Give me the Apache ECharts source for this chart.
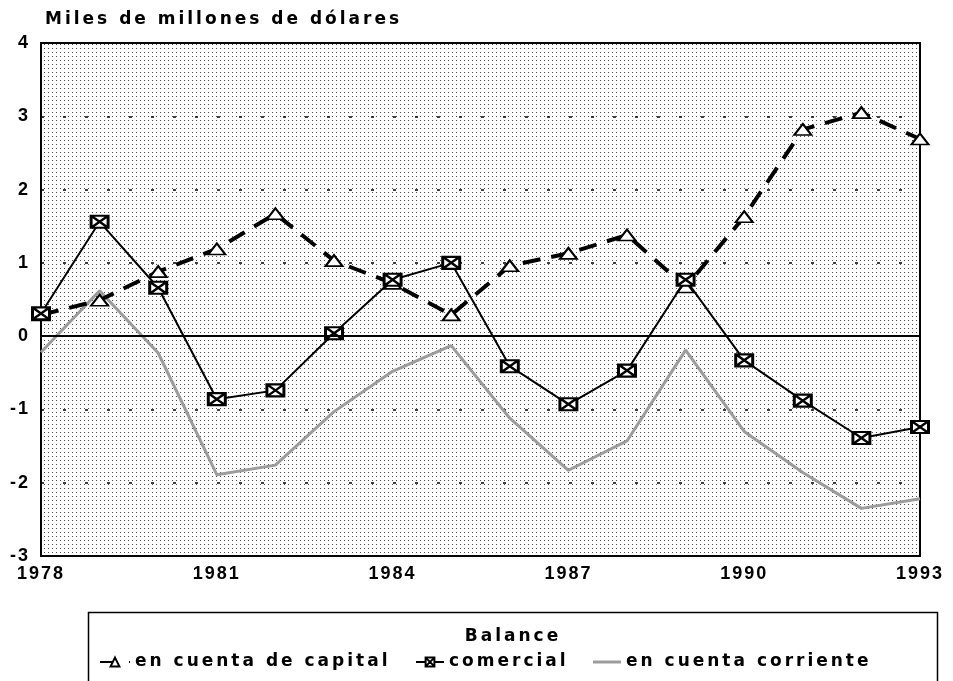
<!DOCTYPE html>
<html>
<head>
<meta charset="utf-8">
<script src="https://cdn.jsdelivr.net/npm/echarts@6/dist/echarts.min.js"></script>
<style>
  html, body { margin: 0; padding: 0; background: #fff; }
  #chart { width: 953px; height: 681px; }
</style>
</head>
<body>
<div id="chart"></div>
<script>
// ---- wide letter spacing for the extended typeface look ----
(function () {
  var P = CanvasRenderingContext2D.prototype;
  function ls(ctx) {
    var f = ctx.font || '';
    try { ctx.letterSpacing = /DejaVu/.test(f) ? '3px' : '2px'; } catch (e) {}
  }
  var ft = P.fillText;
  P.fillText = function () { ls(this); return ft.apply(this, arguments); };
  var mt = P.measureText;
  P.measureText = function () { ls(this); return mt.apply(this, arguments); };
})();

// ---- data ----
var years = ['1978','1979','1980','1981','1982','1983','1984','1985','1986','1987','1988','1989','1990','1991','1992','1993'];
var capital   = [0.29, 0.49, 0.88, 1.19, 1.67, 1.03, 0.72, 0.29, 0.96, 1.13, 1.38, 0.67, 1.63, 2.82, 3.05, 2.69];
var comercial = [0.31, 1.56, 0.66, -0.86, -0.74, 0.04, 0.77, 1.00, -0.41, -0.93, -0.47, 0.77, -0.33, -0.88, -1.39, -1.24];
var corriente = [-0.22, 0.62, -0.23, -1.89, -1.76, -1.03, -0.48, -0.13, -1.12, -1.83, -1.43, -0.19, -1.30, -1.86, -2.35, -2.22];
var seriesNames = ['en cuenta de capital', 'comercial', 'en cuenta corriente'];
var yTicks = { min: -3, max: 4, interval: 1 };

// dotted background pattern
var pc = document.createElement('canvas');
pc.width = 4; pc.height = 4;
var pctx = pc.getContext('2d');
pctx.fillStyle = '#ffffff'; pctx.fillRect(0, 0, 4, 4);
pctx.fillStyle = '#4a4a4a'; pctx.fillRect(0, 0, 1, 1);

var TXT = '"DejaVu Sans", sans-serif';
var NUM = '"Liberation Sans", Arial, sans-serif';
var squareX = 'path://M0,0 L16,0 L16,11 L0,11 Z M0,0 L16,11 M16,0 L0,11';
var txtStyle = { fontFamily: TXT, fontWeight: 'bold', fontSize: 17, color: '#000' };

var chart = echarts.init(document.getElementById('chart'), null, { renderer: 'canvas' });
chart.setOption({
  animation: false,
  backgroundColor: '#ffffff',
  title: [
    { text: 'Miles de millones de dólares', left: 40, top: 5, textStyle: txtStyle },
    { text: 'Balance', left: 508, top: 622, textAlign: 'center', textStyle: txtStyle }
  ],
  legend: [
    { data: [seriesNames[0]], left: 94, top: 647, itemWidth: 30, itemHeight: 11, itemGap: 6, textStyle: txtStyle },
    { data: [seriesNames[1]], left: 410, top: 647, itemWidth: 28, itemHeight: 11, itemGap: 6, textStyle: txtStyle },
    { data: [{ name: seriesNames[2], icon: 'rect' }], left: 588, top: 647, itemWidth: 28, itemHeight: 3, itemGap: 8, textStyle: txtStyle }
  ],
  graphic: [
    { type: 'rect', left: 86, top: 610, shape: { width: 849, height: 90 },
      style: { fill: 'none', stroke: '#000', lineWidth: 1.5 }, z: -1 }
  ],
  grid: {
    left: 41, right: 33, top: 43, bottom: 125,
    show: true,
    backgroundColor: { image: pc, repeat: 'repeat' },
    borderColor: '#000', borderWidth: 2
  },
  xAxis: {
    type: 'category', data: years, boundaryGap: false,
    axisLine: { show: false }, axisTick: { show: false },
    axisLabel: { interval: 2, margin: 8, color: '#000', fontFamily: NUM, fontWeight: 'bold', fontSize: 18 },
    splitLine: { show: false }
  },
  yAxis: {
    type: 'value', min: yTicks.min, max: yTicks.max, interval: yTicks.interval,
    axisLine: { show: false }, axisTick: { show: false },
    axisLabel: { margin: 11, color: '#000', fontFamily: NUM, fontWeight: 'bold', fontSize: 18 },
    splitLine: { show: true, lineStyle: { color: '#000', width: 1.5, type: [3, 19] } }
  },
  series: [
    { name: seriesNames[2], type: 'line', data: corriente, z: 2,
      showSymbol: false, symbol: 'none',
      lineStyle: { color: '#9c9c9c', width: 3 }, itemStyle: { color: '#9c9c9c' },
      markLine: { silent: true, symbol: 'none', label: { show: false },
        lineStyle: { color: '#000', width: 2, type: 'solid' }, data: [{ yAxis: 0 }] } },
    { name: seriesNames[0], type: 'line', data: capital, z: 3,
      symbol: 'triangle', symbolSize: [17, 11], showAllSymbol: true,
      lineStyle: { color: '#000', width: 4, type: [18, 11] },
      itemStyle: { color: '#fff', borderColor: '#000', borderWidth: 2 } },
    { name: seriesNames[1], type: 'line', data: comercial, z: 4,
      symbol: squareX, symbolSize: [17, 12], showAllSymbol: true,
      lineStyle: { color: '#000', width: 2 },
      itemStyle: { color: '#fff', borderColor: '#000', borderWidth: 2.5 } }
  ]
});
</script>
</body>
</html>
